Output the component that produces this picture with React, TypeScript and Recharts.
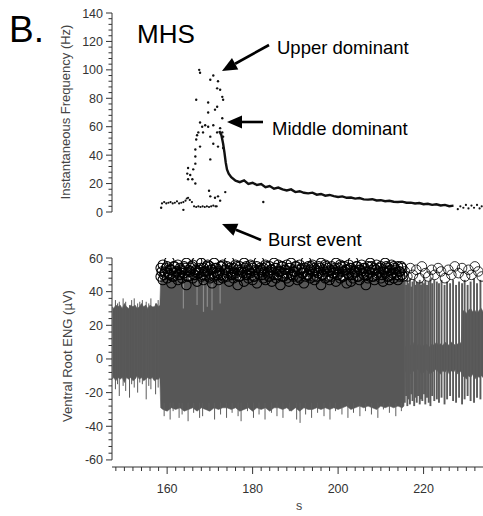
import { ComposedChart, XAxis, YAxis, Scatter, Line, Area, ReferenceLine } from 'recharts'

const FONT = '"Liberation Sans", Arial, Helvetica, sans-serif'
const X_DOMAIN: [number, number] = [147.1, 233.9]

// ---- axis ticks ----
const freqTicks = [0, 4, 8, 12, 16, 20, 24, 28, 32, 36, 40, 44, 48, 52, 56, 60, 64, 68, 72, 76, 80, 84, 88, 92, 96, 100, 104, 108, 112, 116, 120, 124, 128, 132, 136, 140]
const engTicks = [-60, -56, -52, -48, -44, -40, -36, -32, -28, -24, -20, -16, -12, -8, -4, 0, 4, 8, 12, 16, 20, 24, 28, 32, 36, 40, 44, 48, 52, 56, 60]
const timeTicks = [148, 150, 152, 154, 156, 158, 160, 162, 164, 166, 168, 170, 172, 174, 176, 178, 180, 182, 184, 186, 188, 190, 192, 194, 196, 198, 200, 202, 204, 206, 208, 210, 212, 214, 216, 218, 220, 222, 224, 226, 228, 230, 232]

// ---- instantaneous frequency (Hz) ----
const baseTime = [158.8, 159.3, 159.8, 160.3, 160.8, 161.3, 161.8, 162.3, 162.8, 163.3, 163.8, 164.3, 164.6, 164.9, 165.3, 165.8, 166.3, 166.8, 167.3, 167.8, 168.3, 168.8, 169.3, 169.8, 170.3, 170.8, 171.3, 171.6]
const baseFreq = [6, 7, 6, 6.5, 7, 6, 6.5, 7.5, 6, 6.5, 7, 8, 9.5, 10, 8.5, 7, 4, 3.5, 4, 3.5, 4, 3.5, 4, 3.5, 4, 4.5, 4, 4]

const burstTime = [167.5, 167.7, 170.1, 170.8, 171.9, 171.7, 172.4, 172.9, 166.8, 169.6, 171.7, 173.1, 169.6, 171.2, 172.9, 167.7, 168.2, 168.9, 169.6, 170.8, 167.3, 168.4, 171.7, 172.4, 172.9, 173.1, 167.0, 166.8, 170.1, 170.8, 171.9, 167.7, 166.6, 173.1, 166.6, 166.6, 166.1, 164.9, 164.7, 165.4, 165.9, 164.9, 166.6, 170.1, 169.8, 170.1, 171.2, 171.9, 172.4, 173.6, 158.6, 163.8, 182.5]
const burstFreq = [100, 98, 93, 96, 92, 87, 86, 81, 79, 77, 74, 79, 70, 72, 66, 63, 60, 61, 60, 61, 56, 56, 56, 59, 56, 53, 54, 51, 53, 48, 46, 46, 44, 45, 39, 34, 30, 31, 27, 26, 23, 23, 20, 37, 15, 11, 10, 11, 8, 14, 3, 1.5, 7]

const tailTime = [172.2, 172.7, 173.1, 173.4, 173.7, 174.0, 174.4, 175, 176, 177, 178, 179, 180, 181, 182, 183, 184, 185, 186, 187, 188, 189, 190, 191, 192, 193, 194, 195, 196, 197, 198, 199, 200, 201, 202, 203, 204, 205, 206, 207, 208, 209, 210, 211, 212, 213, 214, 215, 216, 217, 218, 219, 220, 221, 222, 223, 224, 225, 226, 227]
const tailFreq = [57, 54, 48, 42, 35, 30, 27, 24.5, 22.0, 21.0, 22.3, 19.8, 20.6, 19.0, 19.6, 17.4, 18.3, 16.4, 17.2, 15.9, 15.2, 15.9, 14.0, 14.6, 13.5, 13.1, 13.6, 12.2, 12.7, 11.5, 12.0, 11.2, 10.6, 11.0, 10.0, 10.2, 9.4, 9.8, 8.9, 8.7, 9.0, 8.1, 8.3, 7.6, 7.9, 7.2, 7.0, 7.3, 6.5, 6.6, 6.0, 6.3, 5.5, 5.8, 5.0, 5.4, 4.6, 5.0, 4.1, 4.5]

const endTime = [228.0, 228.6, 229.3, 229.9, 230.5, 231.2, 231.8, 232.5, 233.1, 233.6]
const endFreq = [2, 4, 3, 5, 2.5, 4.5, 3, 5, 2.5, 4]

// ---- ventral root ENG (µV), envelope of the trace ----
const engTime = [
  147.2, 147.5, 148, 148.5, 149, 149.5, 150, 150.5, 151, 151.5,
  152, 152.5, 153, 153.5, 154, 154.5, 155, 155.5, 156, 156.5,
  157, 157.5, 158, 158.3,
  158.5, 159, 160, 161, 162, 163, 164, 165, 166, 167,
  168, 169, 170, 171, 172, 173, 174, 175, 176, 177,
  178, 179, 180, 181, 182, 183, 184, 185, 186, 187,
  188, 189, 190, 191, 192, 193, 194, 195, 196, 197,
  198, 199, 200, 201, 202, 203, 204, 205, 206, 207,
  208, 209, 210, 211, 212, 213, 214, 215, 215.4,
  215.7, 216, 216.5, 217, 217.5, 218, 218.5, 219, 219.5, 220,
  220.5, 221, 221.5, 222, 222.5, 223, 223.5, 224, 224.5, 225,
  225.5, 226, 226.5, 227, 227.5, 228, 228.5, 228.8,
  229.1, 229.5, 230, 230.5, 231, 231.5, 232, 232.5, 233, 233.5, 233.9,
]
const engHigh = [
  31, 30, 32, 31, 32, 30, 33, 31, 30, 32,
  31, 32, 30, 31, 33, 31, 32, 30, 32, 31,
  31, 33, 31, 32,
  48, 47, 49, 48, 47, 49, 48, 47, 48, 49,
  47, 48, 49, 47, 48, 48, 47, 49, 48, 47,
  48, 49, 47, 48, 47, 49, 48, 48, 47, 49,
  48, 47, 48, 49, 47, 48, 49, 47, 48, 48,
  47, 49, 48, 47, 48, 49, 47, 48, 47, 49,
  48, 47, 48, 49, 47, 48, 47, 48, 47,
  8, 7, 9, 8, 10, 7, 8, 9, 7, 8,
  9, 8, 7, 9, 8, 10, 8, 9, 8, 10,
  9, 8, 10, 9, 8, 9, 10, 9,
  28, 29, 27, 29, 30, 28, 29, 27, 29, 30, 28,
]
const engLow = [
  -12, -11, -13, -11, -12, -11, -14, -11, -12, -11,
  -13, -12, -10, -12, -11, -13, -12, -11, -12, -11,
  -13, -12, -12, -11,
  -29, -30, -31, -29, -30, -29, -31, -30, -29, -31,
  -29, -30, -31, -29, -30, -29, -29, -30, -29, -31,
  -30, -29, -31, -29, -30, -29, -31, -29, -29, -30,
  -29, -31, -29, -31, -29, -30, -30, -29, -30, -29,
  -30, -29, -30, -29, -28, -30, -29, -28, -29, -28,
  -29, -30, -28, -29, -28, -29, -28, -29, -28,
  -7, -8, -6, -9, -7, -8, -6, -7, -9, -8,
  -6, -7, -9, -8, -7, -6, -8, -9, -7, -8,
  -6, -9, -7, -8, -6, -9, -7, -8,
  -11, -10, -12, -10, -11, -9, -12, -10, -11, -10, -11,
]

// single traces that reach past the envelope before the burst
const quietTime = [147.9, 148.4, 148.8, 149.7, 150.3, 151.2, 151.7, 152.3, 153.1, 153.6, 154.2, 155.1, 155.7, 156.2, 157.3, 157.9]
const quietHigh = [35, 33, 34, 36, 34, 32, 35, 36, 33, 34, 35, 34, 33, 36, 33, 35]
const quietLow = [-18, -15, -22, -16, -19, -23, -15, -17, -20, -14, -15, -24, -16, -18, -21, -17]

// bottom-edge traces during the burst
const edgeTime = [159.3, 160.7, 161.4, 162.8, 163.5, 164.9, 166.2, 167.6, 168.3, 169.8, 171.1, 172.5, 173.9, 175.2, 176.6, 177.3, 178.8, 180.2, 181.5, 182.9, 184.4, 185.7, 187.1, 188.6, 190.3, 191.1, 192.4, 193.8, 195.2, 196.7, 198.1, 199.4, 200.9, 202.3, 203.6, 205.1, 206.4, 207.8, 209.3, 210.6, 212.0, 213.5, 214.8]
const edgeLow = [-34, -36, -31, -35, -33, -37, -32, -35, -34, -31, -36, -33, -35, -32, -34, -37, -31, -35, -33, -36, -32, -34, -35, -31, -36, -38, -33, -35, -32, -34, -36, -31, -33, -35, -32, -34, -31, -33, -35, -30, -32, -34, -31]

// isolated full-height spikes after the burst ends
const spikeTime = [215.6, 215.9, 216.2, 216.5, 216.8, 217.1, 217.4, 217.8, 218.1, 218.4, 218.7, 219.1, 219.4, 219.7, 220.1, 220.4, 220.8, 221.2, 221.6, 222.0, 222.5, 223.1, 223.6, 224.2, 224.9, 225.5, 226.2, 226.9, 227.6, 228.3, 229.0, 229.6, 230.3, 231.0, 231.8, 232.5, 233.3]
const spikeHigh = [46, 44, 47, 45, 48, 43, 46, 47, 44, 46, 45, 47, 44, 46, 45, 47, 44, 46, 48, 45, 47, 46, 45, 47, 44, 46, 45, 47, 44, 46, 45, 47, 44, 46, 48, 45, 47]
const spikeLow = [-26, -22, -28, -24, -27, -21, -25, -28, -23, -26, -22, -27, -24, -25, -21, -27, -23, -26, -28, -22, -25, -24, -26, -23, -27, -24, -22, -25, -26, -23, -27, -24, -22, -25, -26, -23, -24]

// paler streaks inside the early burst
const streakTime = [163.8, 167.0, 168.5, 169.4, 170.5, 172.4]
const streakHigh = [45, 46, 45, 46, 45, 46]
const streakLow = [30, 32, 28, 31, 29, 33]

// detected burst peaks (open circles)
const ringTime = [
  158.5, 159, 159.5, 160, 160.5, 161, 161.5, 162, 162.5, 163,
  163.5, 164, 164.5, 165, 165.5, 166, 166.5, 167, 167.5, 168,
  168.5, 169, 169.5, 170, 170.5, 171, 171.5, 172, 172.5, 173,
  173.5, 174, 174.5, 175, 175.5, 176, 176.5, 177, 177.5, 178,
  178.5, 179, 179.5, 180, 180.5, 181, 181.5, 182, 182.5, 183,
  183.5, 184, 184.5, 185, 185.5, 186, 186.5, 187, 187.5, 188,
  188.5, 189, 189.5, 190, 190.5, 191, 191.5, 192, 192.5, 193,
  193.5, 194, 194.5, 195, 195.5, 196, 196.5, 197, 197.5, 198,
  198.5, 199, 199.5, 200, 200.5, 201, 201.5, 202, 202.5, 203,
  203.5, 204, 204.5, 205, 205.5, 206, 206.5, 207, 207.5, 208,
  208.5, 209, 209.5, 210, 210.5, 211, 211.5, 212, 212.5, 213,
  213.5, 214, 214.5, 215,
]
const ringUpper = [
  54, 56, 52, 55, 58, 53, 55, 51, 56, 54,
  52, 55, 57, 53, 54, 56, 52, 58, 53, 57,
  54, 52, 56, 55, 53, 57, 54, 51, 55, 56,
  53, 55, 58, 52, 54, 56, 53, 55, 52, 57,
  55, 53, 56, 54, 52, 55, 58, 53, 54, 56,
  52, 55, 53, 57, 54, 56, 52, 55, 53, 56,
  54, 57, 52, 55, 53, 56, 54, 52, 58, 55,
  53, 56, 54, 52, 55, 57, 53, 56, 54, 52,
  55, 53, 57, 54, 56, 52, 55, 53, 56, 54,
  58, 52, 55, 53, 56, 54, 52, 55, 57, 53,
  54, 56, 52, 55, 53, 57, 54, 52, 56, 55,
  53, 55, 52, 54,
]
const ringLower = [
  49, 47, 51, 48, 50, 45, 49, 52, 47, 50,
  48, 51, 44, 49, 52, 48, 50, 46, 51, 49,
  47, 50, 52, 48, 45, 49, 51, 47, 50, 48,
  52, 49, 46, 50, 48, 51, 44, 49, 52, 46,
  50, 48, 51, 47, 49, 45, 50, 52, 48, 47,
  51, 49, 46, 50, 48, 52, 44, 49, 51, 48,
  46, 50, 49, 52, 47, 48, 51, 45, 49, 50,
  48, 52, 47, 49, 51, 44, 50, 48, 52, 47,
  49, 51, 46, 50, 48, 49, 52, 45, 50, 46,
  48, 51, 49, 47, 52, 50, 44, 48, 51, 49,
  47, 50, 52, 48, 46, 51, 49, 47, 50, 48,
  51, 47, 49, 50,
]
const ringMidTime = [
  158.75, 159.25, 159.75, 160.25, 160.75, 161.25, 161.75, 162.25, 162.75, 163.25,
  163.75, 164.25, 164.75, 165.25, 165.75, 166.25, 166.75, 167.25, 167.75, 168.25,
  168.75, 169.25, 169.75, 170.25, 170.75, 171.25, 171.75, 172.25, 172.75, 173.25,
  173.75, 174.25, 174.75, 175.25, 175.75, 176.25, 176.75, 177.25, 177.75, 178.25,
  178.75, 179.25, 179.75, 180.25, 180.75, 181.25, 181.75, 182.25, 182.75, 183.25,
  183.75, 184.25, 184.75, 185.25, 185.75, 186.25, 186.75, 187.25, 187.75, 188.25,
  188.75, 189.25, 189.75, 190.25, 190.75, 191.25, 191.75, 192.25, 192.75, 193.25,
  193.75, 194.25, 194.75, 195.25, 195.75, 196.25, 196.75, 197.25, 197.75, 198.25,
  198.75, 199.25, 199.75, 200.25, 200.75, 201.25, 201.75, 202.25, 202.75, 203.25,
  203.75, 204.25, 204.75, 205.25, 205.75, 206.25, 206.75, 207.25, 207.75, 208.25,
  208.75, 209.25, 209.75, 210.25, 210.75, 211.25, 211.75, 212.25, 212.75, 213.25,
  213.75, 214.25, 214.75, 215.25,
]
const ringMid = [
  52, 50, 54, 51, 53, 49, 55, 52, 50, 53,
  51, 54, 49, 52, 55, 50, 53, 51, 54, 50,
  52, 55, 49, 53, 51, 54, 50, 52, 55, 49,
  53, 51, 54, 50, 52, 55, 49, 53, 51, 54,
  50, 52, 55, 49, 53, 51, 54, 50, 52, 55,
  49, 53, 51, 54, 50, 52, 55, 49, 53, 51,
  54, 50, 52, 55, 49, 53, 51, 54, 50, 52,
  55, 49, 53, 51, 54, 50, 52, 55, 49, 53,
  51, 54, 50, 52, 55, 49, 53, 51, 54, 50,
  52, 55, 49, 53, 51, 54, 50, 52, 55, 49,
  53, 51, 54, 50, 52, 55, 49, 53, 51, 54,
  50, 52, 55, 49,
]
const ringTailTime = [215.6, 216.2, 216.9, 217.5, 218.3, 219.0, 219.6, 220.4, 221.1, 221.9, 222.6, 223.4, 224.1, 225.0, 225.8, 226.5, 227.3, 228.2, 229.0, 229.7, 230.5, 231.2, 232.0, 232.8, 233.6]
const ringTailValue = [52, 49, 54, 50, 53, 48, 55, 51, 49, 53, 50, 54, 52, 48, 53, 50, 55, 51, 54, 49, 53, 50, 55, 52, 49]

const rows = (t: number[], v: number[]) => t.map((x, i) => ({ t: x, v: v[i] }))
const engRows = engTime.map((t, i) => ({ t, band: [engLow[i], engHigh[i]] }))

const YTick = ({ x, y, payload }: any) => {
  const major = payload.value % 20 === 0
  return (
    <g>
      <line x1={x} x2={x - (major ? 6 : 3.5)} y1={y} y2={y} stroke="#333" />
      {major && (
        <text x={x - 9} y={y + 4.5} textAnchor="end" fontSize={12.5} fill="#333" fontFamily={FONT}>
          {payload.value}
        </text>
      )}
    </g>
  )
}

const XTick = ({ x, y, payload }: any) => {
  const major = payload.value % 20 === 0
  return (
    <g>
      <line x1={x} x2={x} y1={y} y2={y + (major ? 7 : 4)} stroke="#333" />
      {major && (
        <text x={x} y={y + 26} textAnchor="middle" fontSize={12.5} fill="#333" fontFamily={FONT}>
          {payload.value}
        </text>
      )}
    </g>
  )
}

const dot = (r: number) => (p: any) => <circle cx={p.cx} cy={p.cy} r={r} fill="#111" />
const ring = (w: number) => (p: any) => <circle cx={p.cx} cy={p.cy} r={4.8} fill="none" stroke="#000" strokeWidth={w} />

const Arrow = ({ x1, y1, x2, y2 }: { x1: number; y1: number; x2: number; y2: number }) => {
  const len = Math.hypot(x2 - x1, y2 - y1)
  const ux = (x2 - x1) / len
  const uy = (y2 - y1) / len
  const bx = x2 - ux * 15
  const by = y2 - uy * 15
  const hw = 6.5
  return (
    <g>
      <line x1={x1} y1={y1} x2={bx} y2={by} stroke="#000" strokeWidth={2.6} />
      <polygon points={`${x2},${y2} ${bx - uy * hw},${by + ux * hw} ${bx + uy * hw},${by - ux * hw}`} fill="#000" />
    </g>
  )
}

const segs = (key: string, t: number[], lo: number[] | number, hi: number[], color: string, w: number) =>
  t.map((x, i) => (
    <ReferenceLine
      key={`${key}${i}`}
      segment={[{ x, y: Array.isArray(lo) ? lo[i] : lo }, { x, y: hi[i] }]}
      stroke={color}
      strokeWidth={w}
    />
  ))

export default function App() {
  return (
    <div style={{ position: 'absolute', left: 0, top: 0, width: 483, height: 516, background: '#fff', fontFamily: FONT }}>
      <div style={{ position: 'absolute', left: 0, top: 0 }}>
        <ComposedChart width={483} height={220} margin={{ top: 13, right: 0, bottom: 8, left: 0 }}>
          <XAxis dataKey="t" type="number" domain={X_DOMAIN} allowDataOverflow hide />
          <YAxis
            type="number"
            domain={[0, 140]}
            ticks={freqTicks}
            interval={0}
            width={112}
            tickSize={0}
            tickMargin={0}
            tickLine={false}
            tick={<YTick />}
            axisLine={{ stroke: '#333' }}
          />
          <Scatter data={rows(baseTime, baseFreq)} dataKey="v" shape={dot(1.1)} isAnimationActive={false} />
          <Scatter data={rows(burstTime, burstFreq)} dataKey="v" shape={dot(1.2)} isAnimationActive={false} />
          <Line data={rows(tailTime, tailFreq)} dataKey="v" type="linear" stroke="#111" strokeWidth={2.4} dot={false} activeDot={false} isAnimationActive={false} />
          <Scatter data={rows(endTime, endFreq)} dataKey="v" shape={dot(1.1)} isAnimationActive={false} />
        </ComposedChart>
      </div>

      <div style={{ position: 'absolute', left: 0, top: 240 }}>
        <ComposedChart width={483} height={276} margin={{ top: 18, right: 0, bottom: 0, left: 0 }}>
          <XAxis
            dataKey="t"
            type="number"
            domain={X_DOMAIN}
            allowDataOverflow
            ticks={timeTicks}
            interval={0}
            height={49}
            tickSize={0}
            tickMargin={0}
            tickLine={false}
            tick={<XTick />}
            axisLine={{ stroke: '#333' }}
          />
          <YAxis
            type="number"
            domain={[-64.2, 60]}
            allowDataOverflow
            ticks={engTicks}
            interval={0}
            width={112}
            tickSize={0}
            tickMargin={0}
            tickLine={false}
            tick={<YTick />}
            axisLine={false}
          />
          <ReferenceLine segment={[{ x: X_DOMAIN[0], y: -60 }, { x: X_DOMAIN[0], y: 60 }]} stroke="#333" ifOverflow="visible" />
          <Area data={engRows} dataKey="band" type="linear" stroke="#575757" strokeWidth={0.6} fill="#575757" fillOpacity={1} dot={false} activeDot={false} isAnimationActive={false} />
          {segs('q', quietTime, quietLow, quietHigh, '#5a5a5a', 1)}
          {segs('e', edgeTime, -26, edgeLow, '#5e5e5e', 1)}
          {segs('s', streakTime, streakLow, streakHigh, '#8c8c8c', 1.2)}
          {segs('k', spikeTime, spikeLow, spikeHigh, '#5b5b5b', 1.9)}
          <Scatter data={rows(ringTime, ringLower)} dataKey="v" shape={ring(1.05)} isAnimationActive={false} />
          <Scatter data={rows(ringMidTime, ringMid)} dataKey="v" shape={ring(1.05)} isAnimationActive={false} />
          <Scatter data={rows(ringTime, ringUpper)} dataKey="v" shape={ring(1.05)} isAnimationActive={false} />
          <Scatter data={rows(ringTailTime, ringTailValue)} dataKey="v" shape={ring(0.8)} isAnimationActive={false} />
        </ComposedChart>
      </div>

      <svg width={483} height={516} style={{ position: 'absolute', left: 0, top: 0, pointerEvents: 'none' }} fontFamily={FONT}>
        <text x={9} y={42} fontSize={37} fill="#000">B.</text>
        <text x={137} y={43} fontSize={26} fill="#000">MHS</text>
        <text x={277} y={54} fontSize={18.5} fill="#000">Upper dominant</text>
        <text x={272} y={135} fontSize={18.5} fill="#000">Middle dominant</text>
        <text x={268} y={246} fontSize={18.5} fill="#000">Burst event</text>
        <Arrow x1={269} y1={45} x2={222} y2={71} />
        <Arrow x1={263} y1={122} x2={227} y2={122} />
        <Arrow x1={261} y1={240} x2={222} y2={224} />
        <text transform="translate(70,112) rotate(-90)" textAnchor="middle" fontSize={13} fill="#444">
          Instantaneous Frequency (Hz)
        </text>
        <text transform="translate(72,356) rotate(-90)" textAnchor="middle" fontSize={13} fill="#444">
          Ventral Root ENG (µV)
        </text>
        <text x={299} y={510} textAnchor="middle" fontSize={12.5} fill="#444">s</text>
      </svg>
    </div>
  )
}
